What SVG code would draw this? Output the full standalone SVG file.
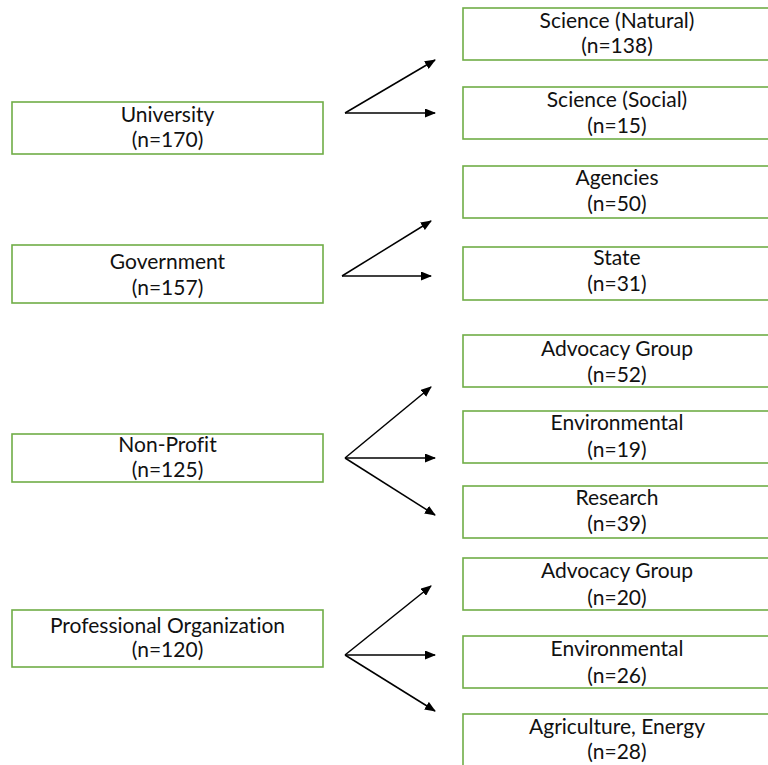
<svg xmlns="http://www.w3.org/2000/svg" width="768" height="765" viewBox="0 0 768 765">
<style>
.box{fill:#fff;stroke:#70AD47;stroke-width:1.6}
.t{font-family:Lato,"Liberation Sans",sans-serif;font-size:21px;fill:#111;text-anchor:middle;font-variant-ligatures:none}
.c{stroke:#000;stroke-width:1.5;fill:none;marker-end:url(#ah)}
</style>
<defs>
<marker id="ah" markerWidth="11" markerHeight="9" refX="10" refY="4.5" orient="auto" markerUnits="userSpaceOnUse">
<path d="M0,0 L11,4.5 L0,9 Z" fill="#000"/>
</marker>
</defs>
<rect width="768" height="765" fill="#fff"/>
<g id="university"><rect class="box" x="12" y="102" width="311" height="52"/><text class="t" x="167.5" y="122">University</text><text class="t" x="167.5" y="147">(n=170)</text></g>
<g id="government"><rect class="box" x="12" y="245" width="311" height="58"/><text class="t" x="167.5" y="269">Government</text><text class="t" x="167.5" y="295">(n=157)</text></g>
<g id="nonprofit"><rect class="box" x="12" y="434" width="311" height="48"/><text class="t" x="167.5" y="452">Non-Profit</text><text class="t" x="167.5" y="477">(n=125)</text></g>
<g id="professional"><rect class="box" x="12" y="610" width="311" height="57"/><text class="t" x="167.5" y="633">Professional Organization</text><text class="t" x="167.5" y="657">(n=120)</text></g>

<g id="sci-natural"><rect class="box" x="463" y="8" width="310" height="52"/><text class="t" x="617" y="28">Science (Natural)</text><text class="t" x="617" y="53">(n=138)</text></g>
<g id="sci-social"><rect class="box" x="463" y="87" width="310" height="52"/><text class="t" x="617" y="107">Science (Social)</text><text class="t" x="617" y="133">(n=15)</text></g>
<g id="agencies"><rect class="box" x="463" y="166" width="310" height="52"/><text class="t" x="617" y="185">Agencies</text><text class="t" x="617" y="211">(n=50)</text></g>
<g id="state"><rect class="box" x="463" y="247" width="310" height="53"/><text class="t" x="617" y="265">State</text><text class="t" x="617" y="291">(n=31)</text></g>
<g id="np-advocacy"><rect class="box" x="463" y="335" width="310" height="52"/><text class="t" x="617" y="356">Advocacy Group</text><text class="t" x="617" y="382">(n=52)</text></g>
<g id="np-environmental"><rect class="box" x="463" y="411" width="310" height="52"/><text class="t" x="617" y="430">Environmental</text><text class="t" x="617" y="457">(n=19)</text></g>
<g id="np-research"><rect class="box" x="463" y="486" width="310" height="52"/><text class="t" x="617" y="505">Research</text><text class="t" x="617" y="531">(n=39)</text></g>
<g id="po-advocacy"><rect class="box" x="463" y="558" width="310" height="52"/><text class="t" x="617" y="578">Advocacy Group</text><text class="t" x="617" y="605">(n=20)</text></g>
<g id="po-environmental"><rect class="box" x="463" y="636" width="310" height="52"/><text class="t" x="617" y="656">Environmental</text><text class="t" x="617" y="683">(n=26)</text></g>
<g id="po-agriculture"><rect class="box" x="463" y="714" width="310" height="60"/><text class="t" x="617" y="734">Agriculture, Energy</text><text class="t" x="617" y="759">(n=28)</text></g>

<g id="connectors">
<line class="c" x1="345" y1="113" x2="435" y2="60"/>
<line class="c" x1="345" y1="113" x2="435" y2="113"/>
<line class="c" x1="342" y1="276" x2="431" y2="221"/>
<line class="c" x1="342" y1="276" x2="431" y2="276"/>
<line class="c" x1="345" y1="458" x2="431" y2="387"/>
<line class="c" x1="345" y1="458" x2="435" y2="458"/>
<line class="c" x1="345" y1="458" x2="435" y2="515"/>
<line class="c" x1="345" y1="655" x2="431" y2="586"/>
<line class="c" x1="345" y1="655" x2="435" y2="655"/>
<line class="c" x1="345" y1="655" x2="435" y2="711"/>
</g>
</svg>
